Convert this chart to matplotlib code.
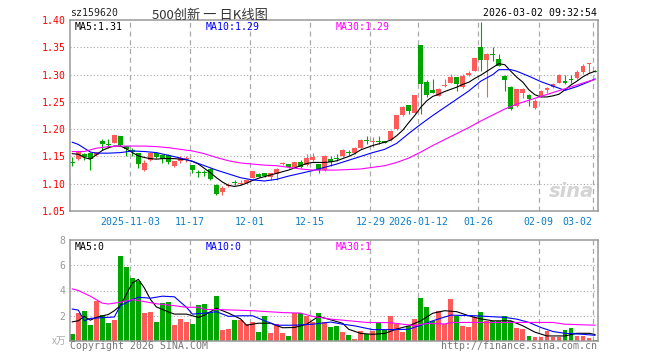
import matplotlib
matplotlib.use('Agg')
import matplotlib.pyplot as plt
import numpy as np

# daily K-line for sz159620, 2025-10-20 .. 2026-03-02 (index 0..87)
opens = [1.1395, 1.145, 1.155, 1.156, 1.152, 1.178, 1.1725, 1.175, 1.187, 1.169,
         1.162, 1.156, 1.126, 1.143, 1.156, 1.153, 1.152, 1.132, 1.141, 1.146,
         1.134, 1.1215, 1.1215, 1.127, 1.098, 1.084, 1.096, 1.1015, 1.100, 1.101,
         1.111, 1.118, 1.119, 1.113, 1.118, 1.136, 1.136, 1.131, 1.140, 1.134,
         1.144, 1.136, 1.125, 1.145, 1.1455, 1.150, 1.1575, 1.157, 1.165, 1.1795,
         1.176, 1.1775, 1.178, 1.180, 1.200, 1.226, 1.244, 1.230, 1.354, 1.286,
         1.272, 1.261, 1.279, 1.285, 1.295, 1.277, 1.299, 1.307, 1.351, 1.326,
         1.3375, 1.328, 1.297, 1.277, 1.243, 1.267, 1.263, 1.238, 1.260, 1.271,
         1.277, 1.285, 1.288, 1.2915, 1.293, 1.304, 1.319, 1.3065]
highs = [1.149, 1.160, 1.156, 1.157, 1.159, 1.182, 1.182, 1.190, 1.187, 1.170,
         1.165, 1.157, 1.144, 1.158, 1.157, 1.154, 1.155, 1.142, 1.150, 1.150,
         1.135, 1.125, 1.126, 1.128, 1.099, 1.095, 1.101, 1.107, 1.106, 1.109,
         1.124, 1.119, 1.120, 1.120, 1.128, 1.139, 1.137, 1.140, 1.143, 1.155,
         1.157, 1.137, 1.152, 1.150, 1.155, 1.163, 1.162, 1.168, 1.182, 1.188,
         1.186, 1.187, 1.178, 1.198, 1.226, 1.243, 1.244, 1.263, 1.354, 1.290,
         1.292, 1.275, 1.291, 1.301, 1.296, 1.301, 1.307, 1.331, 1.397, 1.339,
         1.350, 1.338, 1.299, 1.279, 1.274, 1.275, 1.264, 1.255, 1.272, 1.277,
         1.284, 1.301, 1.299, 1.299, 1.308, 1.319, 1.322, 1.308]
lows = [1.133, 1.144, 1.144, 1.126, 1.151, 1.161, 1.166, 1.174, 1.170, 1.151,
        1.150, 1.128, 1.123, 1.142, 1.148, 1.138, 1.136, 1.131, 1.138, 1.140,
        1.119, 1.112, 1.115, 1.107, 1.080, 1.079, 1.094, 1.097, 1.097, 1.099,
        1.110, 1.112, 1.113, 1.107, 1.107, 1.134, 1.129, 1.130, 1.128, 1.132,
        1.141, 1.119, 1.124, 1.133, 1.141, 1.149, 1.153, 1.155, 1.164, 1.173,
        1.168, 1.173, 1.175, 1.179, 1.199, 1.225, 1.227, 1.229, 1.228, 1.258,
        1.266, 1.260, 1.277, 1.284, 1.269, 1.275, 1.297, 1.306, 1.307, 1.258,
        1.324, 1.316, 1.269, 1.235, 1.241, 1.257, 1.242, 1.237, 1.258, 1.266,
        1.275, 1.284, 1.283, 1.284, 1.291, 1.301, 1.303, 1.305]
closes = [1.1385, 1.159, 1.149, 1.145, 1.158, 1.172, 1.1715, 1.189, 1.171, 1.163,
          1.159, 1.137, 1.138, 1.156, 1.149, 1.146, 1.139, 1.141, 1.148, 1.146,
          1.126, 1.1205, 1.1205, 1.109, 1.081, 1.093, 1.098, 1.1005, 1.100, 1.107,
          1.123, 1.113, 1.114, 1.119, 1.127, 1.136, 1.130, 1.139, 1.131, 1.147,
          1.149, 1.125, 1.150, 1.139, 1.1445, 1.161, 1.1565, 1.166, 1.180, 1.1785,
          1.176, 1.1765, 1.175, 1.197, 1.226, 1.240, 1.233, 1.263, 1.283, 1.263,
          1.267, 1.273, 1.279, 1.295, 1.282, 1.297, 1.302, 1.330, 1.326, 1.337,
          1.3365, 1.316, 1.290, 1.236, 1.273, 1.274, 1.256, 1.252, 1.270, 1.275,
          1.283, 1.299, 1.284, 1.2905, 1.305, 1.316, 1.322, 1.3055]
volume = [0.59, 2.19, 2.35, 1.28, 3.2, 2.08, 1.44, 1.68, 6.72, 5.84,
          4.99, 4.77, 2.24, 2.32, 1.52, 3.04, 3.12, 1.28, 1.76, 1.52,
          1.36, 2.88, 2.96, 2.32, 3.6, 0.88, 0.96, 1.68, 1.63, 1.36,
          1.52, 0.72, 2.0, 0.64, 1.36, 0.64, 0.4, 2.21, 2.21, 2.0,
          1.52, 2.21, 1.52, 1.12, 1.2, 0.72, 0.48, 0.16, 0.8, 0.53,
          0.8, 1.41, 0.88, 2.0, 1.36, 0.72, 1.2, 1.76, 3.44, 2.72,
          1.6, 2.37, 1.36, 3.36, 2.0, 1.2, 1.12, 1.92, 2.32, 1.6,
          1.6, 1.6, 2.0, 1.6, 1.04, 0.93, 0.4, 0.32, 0.32, 0.8,
          0.32, 0.32, 0.88, 1.04, 0.4, 0.4, 0.24, 0.08]

# moving averages as drawn on the chart (index, value)
ma5 = [1.155, 1.154, 1.148, 1.145, 1.153, 1.161, 1.166, 1.169, 1.169, 1.164,
       1.157, 1.151, 1.148, 1.146, 1.145, 1.146, 1.146, 1.146, 1.145, 1.144,
       1.141, 1.136, 1.128, 1.120, 1.111, 1.103, 1.097, 1.095, 1.097, 1.101,
       1.106, 1.110, 1.113, 1.116, 1.119, 1.122, 1.125, 1.129, 1.133, 1.137,
       1.139, 1.139, 1.139, 1.140, 1.142, 1.146, 1.150, 1.155, 1.162, 1.166,
       1.170, 1.173, 1.176, 1.180, 1.188, 1.198, 1.212, 1.225, 1.240, 1.252,
       1.260, 1.264, 1.269, 1.273, 1.277, 1.282, 1.286, 1.293, 1.299, 1.306,
       1.313, 1.320, 1.318, 1.306, 1.295, 1.286, 1.272, 1.263, 1.259, 1.259,
       1.261, 1.264, 1.272, 1.281, 1.288, 1.296, 1.302, 1.306]
ma10_idx = [0, 1, 2, 3, 4, 6, 8, 10, 12, 14, 16, 18, 20, 22, 24, 26, 28, 30, 32, 34,
            36, 38, 40, 42, 44, 46, 48, 50, 52, 54, 56, 58, 60, 62, 64, 66, 68, 70,
            71, 72, 73, 74, 76, 78, 80, 82, 84, 86, 87]
ma10 = [1.176, 1.172, 1.165, 1.158, 1.156, 1.156, 1.157, 1.160, 1.159, 1.157,
        1.152, 1.147, 1.141, 1.133, 1.125, 1.118, 1.111, 1.107, 1.105, 1.108,
        1.114, 1.119, 1.124, 1.130, 1.136, 1.143, 1.150, 1.157, 1.163, 1.174,
        1.192, 1.209, 1.225, 1.240, 1.255, 1.270, 1.288, 1.300, 1.309, 1.309,
        1.309, 1.306, 1.297, 1.287, 1.279, 1.271, 1.278, 1.287, 1.292]
ma30_idx = [0, 2, 4, 6, 8, 10, 12, 14, 16, 18, 20, 22, 24, 26, 28, 30, 32, 34, 36,
            38, 40, 44, 48, 50, 52, 54, 56, 58, 60, 62, 64, 66, 68, 70, 72, 74, 76,
            78, 80, 82, 84, 86, 87]
ma30 = [1.159, 1.159, 1.165, 1.168, 1.169, 1.169, 1.169, 1.168, 1.166, 1.163,
        1.160, 1.155, 1.148, 1.142, 1.138, 1.136, 1.134, 1.133, 1.130, 1.127,
        1.125, 1.125, 1.127, 1.130, 1.133, 1.139, 1.147, 1.158, 1.170, 1.181,
        1.192, 1.203, 1.215, 1.226, 1.237, 1.246, 1.253, 1.260, 1.267, 1.274,
        1.281, 1.288, 1.291]
vma5_idx = [0, 1, 2, 3, 4, 6, 7, 8, 9, 10, 11, 12, 13, 14, 16, 17, 19, 21, 22, 24,
            26, 28, 29, 31, 33, 35, 37, 39, 41, 43, 45, 46, 48, 50, 52, 54, 56, 58,
            60, 62, 64, 66, 68, 70, 73, 75, 77, 79, 82, 84, 86, 87]
vma5 = [1.52, 1.6, 1.95, 1.65, 1.87, 2.1, 2.4, 2.8, 3.7, 4.6, 4.88, 4.2, 3.3, 2.7,
        2.3, 2.13, 2.13, 1.87, 2.05, 2.59, 2.21, 1.75, 1.25, 1.41, 1.41, 1.05, 1.07,
        1.33, 1.95, 1.68, 1.4, 0.93, 0.6, 0.53, 0.6, 0.95, 1.2, 1.6, 2.2, 2.4, 2.32,
        2.0, 1.75, 1.6, 1.6, 1.2, 0.7, 0.4, 0.4, 0.61, 0.61, 0.52]
vma10_idx = [0, 1, 2, 3, 5, 7, 8, 10, 11, 13, 15, 17, 19, 20, 22, 24, 26, 28, 30, 32,
             34, 37, 40, 43, 45, 47, 50, 53, 56, 58, 60, 63, 67, 72, 74, 76, 78, 80,
             82, 85, 87]
vma10 = [2.53, 2.45, 1.6, 1.79, 1.85, 1.9, 2.8, 3.28, 3.47, 3.39, 3.55, 3.5, 2.67,
         2.13, 2.21, 2.32, 1.95, 2.0, 2.0, 1.6, 1.25, 1.25, 1.33, 1.5, 1.33, 1.2, 0.9,
         0.9, 0.93, 1.25, 1.6, 2.05, 2.0, 1.87, 1.73, 1.47, 1.07, 0.75, 0.61, 0.53, 0.45]
vma30_idx = [0, 1, 3, 5, 6, 8, 10, 12, 14, 17, 19, 21, 22, 25, 30, 35, 38, 40, 43, 45,
             49, 53, 55, 57, 59, 62, 63, 70, 80, 82, 87]
vma30 = [4.13, 4.0, 3.55, 3.0, 2.93, 3.07, 3.28, 3.12, 2.95, 2.8, 2.67, 2.67, 2.5,
         2.48, 2.4, 2.25, 2.21, 1.95, 1.73, 1.65, 1.47, 1.45, 1.33, 1.22, 1.39, 1.35,
         1.47, 1.47, 1.47, 1.33, 1.25]

date_idx = [10, 20, 30, 40, 50, 58, 68, 78, 87]
date_labels = ['2025-11-03', '11-17', '12-01', '12-15', '12-29', '2026-01-12',
               '01-26', '02-09', '03-02']
price_ticks = [1.05, 1.10, 1.15, 1.20, 1.25, 1.30, 1.35, 1.40]
vol_ticks = [2, 4, 6, 8]

RED = '#ff5a5a'
GREEN = '#00a600'
GRID = '#aaaaaa'
MONO = 'DejaVu Sans Mono'
FS = 7.1

W, H = 660, 360
fig = plt.figure(figsize=(W / 100, H / 100), dpi=100)


def fx(x):
    return x / W


def fy(y):
    return 1 - y / H


ax = fig.add_axes([fx(70), fy(211), (597.7 - 70) / W, 191 / H])
axv = fig.add_axes([fx(70), fy(341), (597.7 - 70) / W, 101 / H])

o = np.array(opens)
c = np.array(closes)
idx = np.arange(len(o))
cols = np.where(c >= o, RED, GREEN)

vpos = [d - 0.4 for d in date_idx]
for a in (ax, axv):
    a.set_xlim(-0.38, 87.45)
    for s in a.spines.values():
        s.set_color('#999999')
        s.set_linewidth(1.1)
    for v in vpos:
        a.axvline(v, color=GRID, lw=0.9, ls=(0, (4, 3)), zorder=0)

# price panel
for p in price_ticks[1:-1]:
    ax.axhline(p, color=GRID, lw=0.8, ls=(0, (1, 2)), zorder=0)
ax.set_ylim(1.05, 1.40)
ax.text(0.95, 0.1, 'sina', transform=ax.transAxes, ha='center', va='center',
        fontsize=14, fontweight='bold', style='italic', color='#d4d4d4', zorder=1)
ax.vlines(idx, lows, highs, colors=cols, lw=0.8, zorder=2)
ax.bar(idx, np.maximum(np.abs(c - o), 0.0018), 0.8, bottom=np.minimum(o, c),
       color=cols, lw=0, zorder=2)
ax.plot(idx, ma5, color='black', lw=0.8, zorder=3)
ax.plot(ma10_idx, ma10, color='#0000ff', lw=0.8, zorder=3)
ax.plot(ma30_idx, ma30, color='#ff00ff', lw=0.8, zorder=3)

ax.set_yticks(price_ticks)
ax.set_yticklabels(['%.2f' % p for p in price_ticks], color='red',
                   fontfamily=MONO, fontsize=FS)
ax.set_xticks(vpos)
ax.set_xticklabels(date_labels, color='#0a7cc8', fontfamily=MONO, fontsize=FS)
ax.get_xticklabels()[-1].set_ha('right')
ax.tick_params(length=0, pad=3.2)
ax.tick_params(axis='x', pad=4.5)

# volume panel
for v in vol_ticks[:-1]:
    axv.axhline(v, color=GRID, lw=0.8, ls=(0, (1, 2)), zorder=0)
axv.set_ylim(0, 8)
axv.bar(idx, volume, 0.8, color=cols, lw=0, zorder=2)
axv.plot(vma5_idx, vma5, color='black', lw=0.8, zorder=3)
axv.plot(vma10_idx, vma10, color='#0000ff', lw=0.8, zorder=3)
axv.plot(vma30_idx, vma30, color='#ff00ff', lw=0.8, zorder=3)
axv.set_yticks(vol_ticks)
axv.set_yticklabels([str(v) for v in vol_ticks], color='#999999',
                    fontfamily=MONO, fontsize=FS)
axv.set_xticks([])
axv.tick_params(length=0, pad=3.2)

# header and legends
fig.text(fx(70), fy(13.5), 'sz159620', fontfamily=MONO, fontsize=FS,
         color='#222222', va='center')
fig.text(fx(210), fy(15), '500创新 一 日K线图', family=['Noto Sans CJK SC', 'DejaVu Sans'],
         fontsize=9.5, color='#333333', ha='center', va='center')
fig.text(fx(597), fy(13), '2026-03-02 09:32:54', fontfamily=MONO, fontsize=FS,
         color='black', ha='right', va='center')
for (x, t, col) in [(75, 'MA5:1.31', 'black'), (206, 'MA10:1.29', '#0000ff'),
                    (336, 'MA30:1.29', '#ff00ff')]:
    fig.text(fx(x), fy(27), t, fontfamily=MONO, fontsize=FS, color=col, va='center')
for (x, t, col) in [(75, 'MA5:0', 'black'), (206, 'MA10:0', '#0000ff'),
                    (336, 'MA30:1', '#ff00ff')]:
    fig.text(fx(x), fy(247), t, fontfamily=MONO, fontsize=FS, color=col, va='center')
fig.text(fx(66), fy(341), 'x万', family=['Noto Sans CJK SC', 'DejaVu Sans'],
         fontsize=7, color='#aaaaaa', ha='right', va='center', style='italic')
fig.text(fx(70), fy(346), 'Copyright 2026 SINA.COM', fontfamily=MONO, fontsize=FS,
         color='#777777', va='center')
fig.text(fx(597), fy(346), 'http://finance.sina.com.cn', fontfamily=MONO, fontsize=FS,
         color='#777777', ha='right', va='center')

fig.savefig('out.png', dpi=100)
